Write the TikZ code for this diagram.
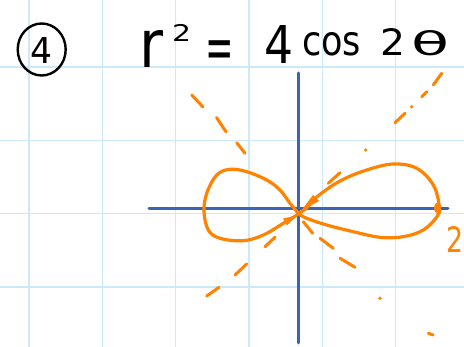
\documentclass[tikz,border=0pt]{standalone}
\usepackage{fontspec}
\setmainfont{DejaVu Sans}
\usepackage{graphicx}
\definecolor{gridblue}{HTML}{CDE8F8}
\definecolor{axisblue}{HTML}{3B63B6}
\definecolor{pen}{HTML}{FF8300}
\tikzset{
  gridline/.style={draw=gridblue, line width=1.3pt},
  axisline/.style={draw=axisblue, line width=3pt, line cap=round},
  curve/.style={draw=pen, line width=3.2pt, line cap=round, line join=round},
  seg/.style={draw=pen, line width=3pt, line cap=round},
  ink/.style={inner sep=0pt, anchor=north west},
  inkbase/.style={inner sep=0pt, anchor=base west},
}
\begin{document}
\begin{tikzpicture}[x=1pt,y=-1pt]
\useasboundingbox (0,0) rectangle (464,347);
\fill[white] (0,0) rectangle (464,347);
% grid
\foreach \x in {29,102.3,175.7,249,322.3,395.7}
  \draw[gridline] (\x,0) -- (\x,347);
\foreach \y in {67,140.3,213.7,287}
  \draw[gridline] (0,\y) -- (464,\y);
% axes
\draw[axisline] (149,208.3) -- (448,208.3);
\draw[axisline] (298.5,73) -- (298.5,343);
% lemniscate, right lobe
\draw[curve] plot[smooth, tension=0.6] coordinates {
  (299,213) (306.7,208) (316.7,197) (340,181) (366.7,170) (393.3,164)
  (416.7,168.3) (433.3,185) (439.3,206.7) (436.7,217) (423.3,230)
  (403.3,236.7) (380,237.3) (353.3,231.7) (326.7,225) (306.7,218.3) (299,214)};
% left lobe
\draw[curve] plot[smooth, tension=0.6] coordinates {
  (298,213) (290,203.3) (280,190) (266.7,180) (246.7,171.7) (230,169.3)
  (216.7,175) (206.7,193.3) (204,211.7) (208.3,230) (220,238.3)
  (243.3,240.7) (263.3,235) (283.3,223.3) (297,215)};
% marks on the curve
\fill[pen] (437.5,208) ellipse (3.6pt and 5.5pt);
\fill[pen] (301,211) -- (313,195) -- (319,201) -- cycle;
\fill[pen] (297,215.5) -- (283,218.5) -- (287,225.5) -- cycle;
% dashed line y = -x
\draw[seg] (191.7,95) -- (203,107);
\draw[seg] (216.5,117.5) -- (226,131.7);
\draw[seg] (236.7,142.7) -- (245,153.3);
\draw[seg] (303.3,221.7) -- (312.7,233.3);
\draw[seg] (320,238.3) -- (333.3,248.3);
\draw[seg] (340,258.3) -- (355,267.3);
\fill[pen] (380,298.3) circle (1.8pt);
\draw[seg] (428.3,333.3) -- (433,335);
% dashed line y = x
\draw[seg] (441.7,73.3) -- (433.3,85);
\draw[seg] (426.7,91.7) -- (421.7,96.7);
\fill[pen] (411.7,106.7) circle (1.8pt);
\draw[seg] (405,113.3) -- (395,122.7);
\fill[pen] (365.7,150) circle (1.8pt);
\draw[seg] (340,172.7) -- (328.3,183.3);
\draw[seg] (275,237.3) -- (265,246.7);
\draw[seg] (246.7,264) -- (235,275);
\draw[seg] (219,287.3) -- (206.7,296);
% title
\draw[line width=2.4pt] (41.7,49.5) ellipse (24pt and 26pt);
\node[ink] (num) at (30,37) {\resizebox{22pt}{26pt}{4}};
\node[ink] (tr) at (139,30) {\resizebox{24pt}{37pt}{r}};
\node[inkbase] (tsq) at (172,42) {\scalebox{1.3}[1]{\fontsize{23}{23}\selectfont 2}};
\node[inkbase] (teq) at (205,68.5) {\scalebox{1}[1.8]{\fontsize{34}{34}\selectfont =}};
\node[ink] (tfour) at (264,25) {\resizebox{29pt}{38pt}{4}};
\node[ink] (tcos) at (302,32) {\resizebox{59pt}{23pt}{cos}};
\node[ink] (ttwo) at (380,28) {\resizebox{25pt}{27pt}{2}};
\node[ink] (ttheta) at (411,30) {\resizebox{38pt}{25pt}{θ}};
% label 2 at the right edge
\node[ink] (lbl) at (446.5,226) {\resizebox{17pt}{26pt}{\color{pen}2}};
\end{tikzpicture}
\end{document}
